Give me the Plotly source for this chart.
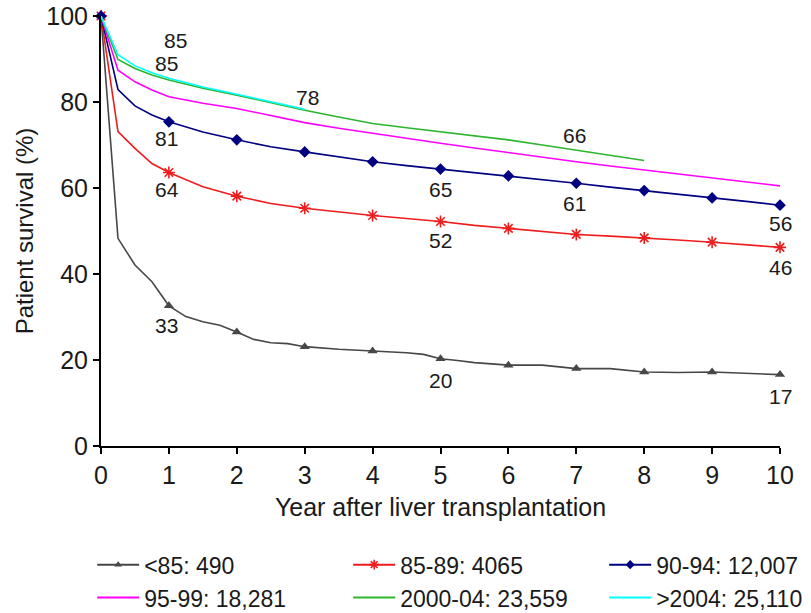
import plotly.graph_objects as go

# ---- data ----
t_lt85 = [0, 0.25, 0.5, 0.75, 1, 1.25, 1.5, 1.75, 2, 2.25, 2.5, 2.75, 3, 3.5, 4, 4.5, 4.75,
          5, 5.25, 5.5, 6, 6.5, 7, 7.5, 8, 8.5, 9, 9.5, 10]
s_lt85 = [100, 48.3, 42.1, 38.2, 32.6, 30.1, 28.9, 28.1, 26.5, 24.8, 24.0, 23.8, 23.1, 22.5, 22.1,
          21.7, 21.3, 20.3, 19.9, 19.4, 18.8, 18.8, 18.0, 18.0, 17.2, 17.1, 17.2, 16.9, 16.6]

t_common = [0, 0.25, 0.5, 0.75, 1, 1.5, 2, 2.5, 3, 3.5, 4, 4.5, 5, 5.5, 6, 6.5, 7, 7.5, 8,
            8.5, 9, 9.5, 10]
s_85_89 = [100, 73.1, 69.2, 65.7, 63.6, 60.3, 58.1, 56.4, 55.3, 54.4, 53.6, 52.9, 52.2, 51.3,
           50.6, 49.9, 49.2, 48.8, 48.4, 47.9, 47.4, 46.8, 46.2]
s_90_94 = [100, 82.9, 79.1, 77.0, 75.4, 73.0, 71.2, 69.6, 68.4, 67.2, 66.1, 65.2, 64.4, 63.6,
           62.8, 62.0, 61.1, 60.2, 59.4, 58.6, 57.7, 56.9, 56.0]
s_95_99 = [100, 87.4, 84.7, 82.8, 81.2, 79.7, 78.5, 76.8, 75.2, 73.9, 72.7, 71.5, 70.4, 69.3,
           68.2, 67.1, 66.1, 65.1, 64.2, 63.2, 62.3, 61.4, 60.5]
t_2000_04 = [0, 0.25, 0.5, 0.75, 1, 1.5, 2, 2.5, 3, 3.5, 4, 4.5, 5, 5.5, 6, 6.5, 7, 7.5, 8]
s_2000_04 = [100, 89.9, 87.8, 86.3, 85.1, 83.2, 81.6, 79.8, 78.1, 76.5, 75.0, 74.0, 73.1, 72.1,
             71.2, 70.0, 68.8, 67.6, 66.4]
t_gt2004 = [0, 0.25, 0.5, 0.75, 1, 1.5, 2, 2.5, 3]
s_gt2004 = [100, 91.0, 88.4, 86.8, 85.5, 83.5, 81.8, 80.0, 78.3]

legend_names = ["<85: 490", "85-89: 4065", "90-94: 12,007",
                "95-99: 18,281", "2000-04: 23,559", ">2004: 25,110"]

# value labels written on the chart
label_text = ["85", "85", "78", "81", "64", "66", "65", "61", "56", "52", "46", "33", "20", "17"]
label_x = [1.09, 0.97, 3.04, 0.96, 0.97, 6.98, 5.0, 6.97, 10.0, 5.0, 10.0, 0.96, 5.0, 10.0]
label_y = [94.2, 89.0, 81.0, 71.6, 59.7, 72.3, 59.7, 56.4, 51.8, 47.9, 41.6, 28.1, 15.3, 11.4]

x_ticks = list(range(0, 11))
y_ticks = [0, 20, 40, 60, 80, 100]

FONT = "Liberation Sans, Arial, sans-serif"
TXT = "#1a1a1a"
FS = 25
LFS = 23

series = [
    (t_lt85, s_lt85, "#474747", "triangle-up", 9, None),
    (t_common, s_85_89, "#ee1c1c", "asterisk-open", 10, 1.6),
    (t_common, s_90_94, "#000080", "diamond", 9, None),
    (t_common, s_95_99, "#ff00ff", None, 0, None),
    (t_2000_04, s_2000_04, "#2db52d", None, 0, None),
    (t_gt2004, s_gt2004, "#00ffff", None, 0, None),
]

fig = go.Figure()
for (tx, sy, col, sym, msz, mlw), name in zip(series, legend_names):
    fig.add_trace(go.Scatter(x=tx, y=sy, mode="lines", line=dict(color=col, width=1.6),
                             showlegend=False, hoverinfo="skip", cliponaxis=False))
    if sym:
        mx = [a for a in tx if float(a).is_integer()]
        my = [b for a, b in zip(tx, sy) if float(a).is_integer()]
        mk = dict(symbol=sym, size=msz, color=col)
        if mlw:
            mk["line"] = dict(color=col, width=mlw)
        fig.add_trace(go.Scatter(x=mx, y=my, mode="markers", marker=mk,
                                 showlegend=False, cliponaxis=False))
    # legend entry
    if sym:
        mk = dict(symbol=sym, size=msz - 2, color=col)
        if mlw:
            mk["line"] = dict(color=col, width=mlw)
        fig.add_trace(go.Scatter(x=[None], y=[None], mode="lines+markers", name=name,
                                 line=dict(color=col, width=2), marker=mk))
    else:
        fig.add_trace(go.Scatter(x=[None], y=[None], mode="lines", name=name,
                                 line=dict(color=col, width=2)))

for tx, ty, tt in zip(label_x, label_y, label_text):
    fig.add_annotation(x=tx, y=ty, text=tt, showarrow=False,
                       font=dict(family=FONT, size=21, color=TXT),
                       xanchor="center", yanchor="middle")

fig.update_layout(
    width=811, height=613,
    margin=dict(l=101, r=31, t=16, b=167, autoexpand=False),
    paper_bgcolor="white", plot_bgcolor="white",
    font=dict(family=FONT, size=FS, color=TXT),
    showlegend=True,
    legend=dict(orientation="h", x=-0.013, xanchor="left", y=-0.226, yanchor="top",
                entrywidth=199, font=dict(family=FONT, size=LFS, color=TXT),
                itemwidth=42, tracegroupgap=0, bgcolor="rgba(0,0,0,0)"),
)
fig.update_xaxes(range=[0, 10], tickvals=x_ticks, ticktext=[str(v) for v in x_ticks],
                 automargin=False,
                 showgrid=False, zeroline=False, showline=True, linecolor="black", linewidth=2,
                 ticks="outside", ticklen=6, tickwidth=2, tickcolor="black",
                 tickfont=dict(family=FONT, size=FS, color=TXT),
                 title=dict(text="Year after liver transplantation", standoff=10,
                            font=dict(family=FONT, size=FS, color=TXT)))
fig.update_yaxes(range=[0, 100], tickvals=y_ticks, ticktext=[str(v) for v in y_ticks],
                 automargin=False,
                 showgrid=False, zeroline=False, showline=True, linecolor="black", linewidth=2,
                 ticks="outside", ticklen=6, tickwidth=2, tickcolor="black",
                 tickfont=dict(family=FONT, size=FS, color=TXT),
                 title=dict(text="Patient survival (%)", standoff=6,
                            font=dict(family=FONT, size=24, color=TXT)))

fig.write_html("out.html", config={"displayModeBar": False},
               post_script="document.body.style.margin='0';document.body.style.overflow='hidden';")
